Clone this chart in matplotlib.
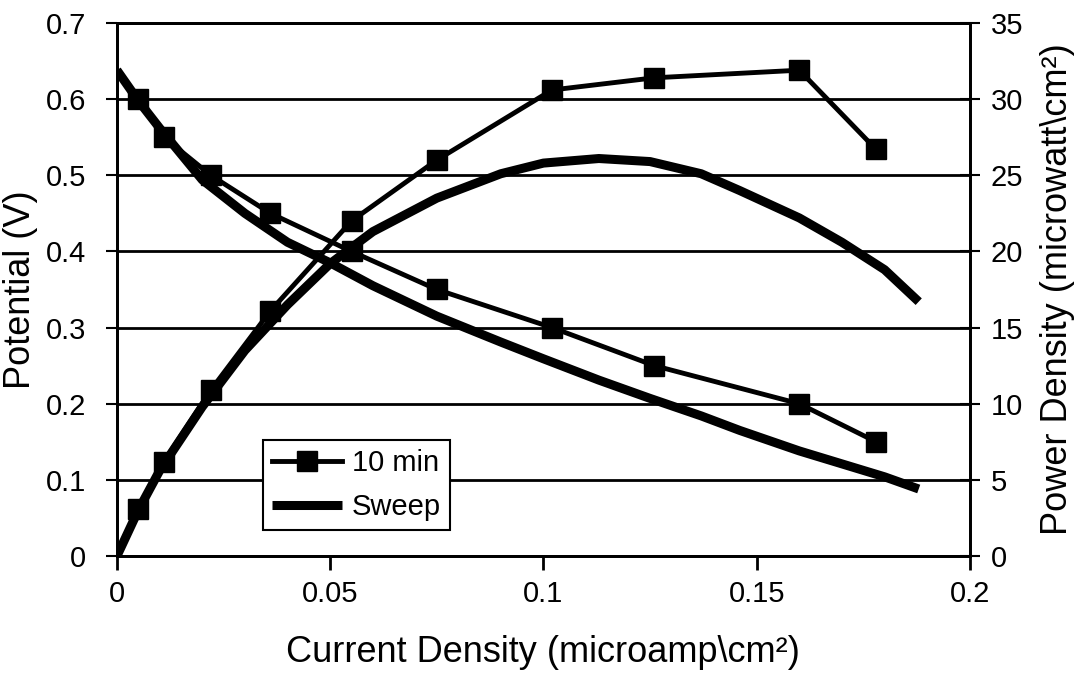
import numpy as np
import matplotlib
matplotlib.use('Agg')
import matplotlib.pyplot as plt
from matplotlib.ticker import FuncFormatter

plt.rcParams['font.family'] = ['Liberation Sans', 'DejaVu Sans']

ten_min_current = [0.005, 0.011, 0.022, 0.036, 0.055, 0.075, 0.102, 0.126, 0.160, 0.178]
ten_min_potential = [0.60, 0.55, 0.50, 0.45, 0.40, 0.35, 0.30, 0.25, 0.20, 0.15]
ten_min_power = [3.1, 6.2, 10.9, 16.1, 22.0, 26.0, 30.6, 31.4, 31.9, 26.7]

# sweep curve
sweep_current = [0, 0.005, 0.01, 0.02, 0.03, 0.04, 0.05, 0.06, 0.075, 0.09,
                 0.1, 0.113, 0.125, 0.137, 0.146, 0.16, 0.17, 0.18, 0.188]
sweep_potential = [0.638, 0.598, 0.562, 0.494, 0.45, 0.412, 0.385, 0.355, 0.315, 0.281,
                   0.259, 0.231, 0.207, 0.184, 0.165, 0.138, 0.121, 0.104, 0.088]
sweep_power = [0, 3.0, 5.6, 9.8, 13.5, 16.5, 19.2, 21.3, 23.5, 25.1,
               25.8, 26.1, 25.9, 25.1, 24.0, 22.2, 20.6, 18.8, 16.7]

x_ticks = [0, 0.05, 0.1, 0.15, 0.2]
left_ticks = [0, 0.1, 0.2, 0.3, 0.4, 0.5, 0.6, 0.7]
right_ticks = [0, 5, 10, 15, 20, 25, 30, 35]

fig = plt.figure(figsize=(10.91, 6.92), dpi=100, facecolor='white')
ax = fig.add_axes([0.1072, 0.1965, 0.7818, 0.7703])
ax2 = ax.twinx()

marker_style = dict(color='black', lw=3.5, marker='s', markersize=14, solid_joinstyle='miter')
sweep_style = dict(color='black', lw=6.5, solid_capstyle='butt')

h1, = ax.plot(ten_min_current, ten_min_potential, label='10 min', **marker_style)
h2, = ax.plot(sweep_current, sweep_potential, label='Sweep', **sweep_style)
ax2.plot(ten_min_current, ten_min_power, **marker_style)
ax2.plot(sweep_current, sweep_power, **sweep_style)

ax.set_xlim(0, 0.2)
ax.set_ylim(0, 0.7)
ax2.set_ylim(0, 35)
ax.set_xticks(x_ticks)
ax.set_yticks(left_ticks)
ax2.set_yticks(right_ticks)

fmt = FuncFormatter(lambda v, p: '%g' % v)
ax.xaxis.set_major_formatter(fmt)
ax.yaxis.set_major_formatter(fmt)
ax2.yaxis.set_major_formatter(fmt)

ax.yaxis.grid(True, color='black', lw=2)
ax.set_axisbelow(True)

for a in (ax, ax2):
    for s in a.spines.values():
        s.set_linewidth(2)
        s.set_color('black')

ax.tick_params(axis='x', direction='out', length=10, width=2, labelsize=21, pad=7)
ax.tick_params(axis='y', direction='out', length=8, width=1.5, labelsize=21, pad=14)
ax2.tick_params(axis='y', direction='inout', length=14, width=1.5, labelsize=21, pad=8)

ax.set_xlabel('Current Density (microamp\\cm\u00b2)', fontsize=26)
ax.set_ylabel('Potential (V)', fontsize=26)
ax2.set_ylabel('Power Density (microwatt\\cm\u00b2)', fontsize=26)
ax.xaxis.set_label_coords(0.5, -0.148)
ax.yaxis.set_label_coords(-0.0926, 0.5)
ax2.yaxis.set_label_coords(1.082, 0.5)

leg = ax.legend(handles=[h1, h2], loc='lower left', bbox_to_anchor=(0.171, 0.049),
                borderaxespad=0, fancybox=False, framealpha=1, edgecolor='black',
                fontsize=21, handlelength=2.4, handletextpad=0.35, borderpad=0.3,
                labelspacing=0.55)
leg.get_frame().set_linewidth(1.5)
leg.set_zorder(10)

fig.savefig('out.png', dpi=100, facecolor='white')
